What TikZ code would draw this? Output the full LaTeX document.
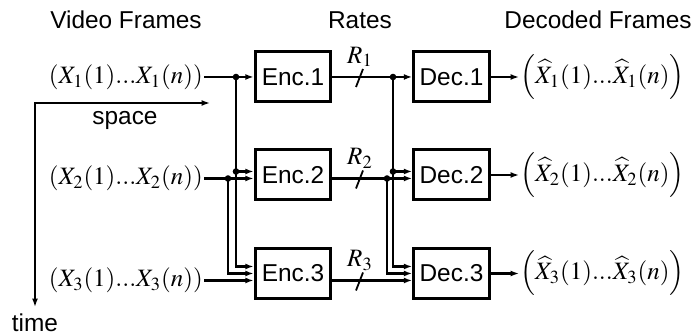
\documentclass[tikz,border=0pt]{standalone}
\usepackage{mathptmx}
\usepackage[no-math]{fontspec}
\setsansfont{Liberation Sans}
\usetikzlibrary{arrows.meta,calc}

\begin{document}
\begin{tikzpicture}[x=0.5pt,y=-0.5pt,line width=1.3pt,
  >={Latex[length=4.2pt,width=3pt]},
  blk/.style={draw,line width=1.5pt,minimum width=37.8pt,minimum height=25pt,inner sep=0pt,
    font=\sffamily\fontsize{12.2}{14}\selectfont},
  lbl/.style={font=\sffamily\fontsize{12.2}{14}\selectfont},
  sig/.style={inner sep=0pt,font=\fontsize{12.5}{15}\selectfont},
  dot/.style={circle,fill,inner sep=0pt,minimum size=3.3pt}]
  \useasboundingbox (0,0) rectangle (692,335);
  % headers
  \node[lbl] (hvid) at (126,20) {Video Frames};
  \node[lbl] (hrate) at (360,20) {Rates};
  \node[lbl] (hdec) at (598,20) {Decoded Frames};
  % encoders and decoders
  \node[blk] (enc1) at (293,77) {Enc.1};
  \node[blk] (enc2) at (293,175) {Enc.2};
  \node[blk] (enc3) at (293,273.5) {Enc.3};
  \node[blk] (dec1) at (451.5,77) {Dec.1};
  \node[blk] (dec2) at (451.5,175) {Dec.2};
  \node[blk] (dec3) at (451.5,273.5) {Dec.3};
  % sources
  \node[sig,anchor=east] (x1) at (204,77) {$(X_1(1)...X_1(n))$};
  \node[sig,anchor=east] (x2) at (204,178.5) {$(X_2(1)...X_2(n))$};
  \node[sig,anchor=east] (x3) at (204,280.5) {$(X_3(1)...X_3(n))$};
  \coordinate (a1) at (236,77);
  \coordinate (a2) at (228,178.5);
  \draw (x1.east) -- (a1);
  \draw[->] (a1) -- (enc1.west);
  \draw[->] (a1) |- ($(enc3.west)+(0,-7)$);
  \draw[->] (a1 |- 0,171.5) -- ($(enc2.west)+(0,-3.5)$);
  \draw (x2.east) -- (a2);
  \draw[->] (a2) -- ($(enc2.west)+(0,3.5)$);
  \draw[->] (a2) |- (enc3.west);
  \draw[->] (x3.east) -- ($(enc3.west)+(0,7)$);
  \node[dot] (ja) at (a1) {};
  \node[dot] (jb) at (a1 |- 0,171.5) {};
  \node[dot] (jc) at (a2) {};
  % rates
  \coordinate (b1) at (393,77);
  \coordinate (b2) at (387,178.5);
  \draw (enc1.east) -- (b1);
  \draw[->] (b1) -- (dec1.west);
  \draw[->] (b1) |- ($(dec3.west)+(0,-7)$);
  \draw[->] (b1 |- 0,171.5) -- ($(dec2.west)+(0,-3.5)$);
  \draw ($(enc2.east)+(0,3.5)$) -- (b2);
  \draw[->] (b2) -- ($(dec2.west)+(0,3.5)$);
  \draw[->] (b2) |- (dec3.west);
  \draw[->] ($(enc3.east)+(0,7)$) -- ($(dec3.west)+(0,7)$);
  \node[dot] (jd) at (b1) {};
  \node[dot] (je) at (b1 |- 0,171.5) {};
  \node[dot] (jf) at (b2) {};
  \foreach \y/\i in {77/1,178.5/2,280.5/3}{
    \draw[line width=0.9pt] (363,\y-8) -- (356,\y+10);
    \node[sig] (r\i) at (360,\y-20) {$R_\i$};
  }
  % reconstructions
  \node[sig,anchor=west] (y1) at (519,77) {$\left(\widehat{X}_1(1)...\widehat{X}_1(n)\right)$};
  \node[sig,anchor=west] (y2) at (519,175) {$\left(\widehat{X}_2(1)...\widehat{X}_2(n)\right)$};
  \node[sig,anchor=west] (y3) at (519,273.5) {$\left(\widehat{X}_3(1)...\widehat{X}_3(n)\right)$};
  \draw[->] (dec1.east) -- (y1.west);
  \draw[->] (dec2.east) -- (y2.west);
  \draw[->] (dec3.east) -- (y3.west);
  % space / time axes
  \coordinate (sp) at (210,103);
  \coordinate (tm) at (35,307);
  \draw[<->] (sp) -| (tm);
  \node[lbl] (spc) at (125,120) {space};
  \node[lbl] (tim) at (35,323) {time};
\end{tikzpicture}
\end{document}
